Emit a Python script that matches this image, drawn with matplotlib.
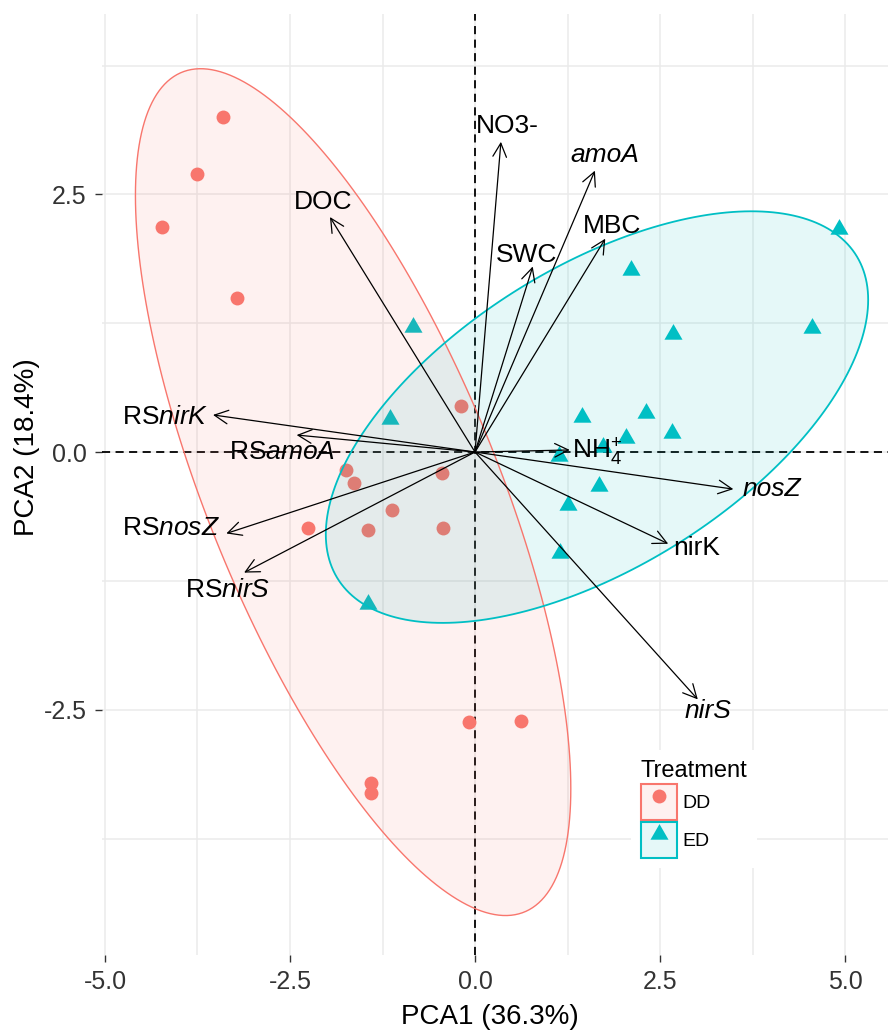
import numpy as np
import matplotlib
matplotlib.use("Agg")
import matplotlib.pyplot as plt
from matplotlib.patches import Polygon, Rectangle
from matplotlib.lines import Line2D
from matplotlib.legend_handler import HandlerTuple

plt.rcParams['font.family'] = ['Liberation Sans', 'DejaVu Sans']
plt.rcParams['mathtext.fontset'] = 'custom'
plt.rcParams['mathtext.rm'] = 'Liberation Sans'
plt.rcParams['mathtext.it'] = 'Liberation Sans:italic'
plt.rcParams['mathtext.bf'] = 'Liberation Sans:bold'

# ---------------- data ----------------
dd_pc1 = [-3.41, -3.76, -4.23, -3.22, -0.19, -1.74, -1.64, -1.12, -2.26, -1.45,
          -0.45, -0.43, -1.41, -1.41, -0.08, 0.62]
dd_pc2 = [3.25, 2.70, 2.18, 1.49, 0.45, -0.17, -0.30, -0.56, -0.74, -0.76,
          -0.20, -0.74, -3.21, -3.31, -2.62, -2.61]

ed_pc1 = [4.92, 2.11, -0.84, 2.68, 4.55, -1.15, 1.45, 2.31, 2.66, 2.04,
          1.73, 1.14, 1.68, 1.26, 1.15, -1.45]
ed_pc2 = [2.16, 1.77, 1.21, 1.15, 1.20, 0.32, 0.34, 0.38, 0.18, 0.14,
          0.05, -0.04, -0.33, -0.51, -0.98, -1.47]

# 95% ellipses: centre and (scaled) covariance matrix
dd_ellipse_center = [-1.647, -0.389]
dd_ellipse_cov = [[8.651, -8.462], [-8.462, 16.877]]
ed_ellipse_center = [1.648, 0.339]
ed_ellipse_cov = [[13.425, 4.167], [4.167, 3.987]]

var_names = ['NO3-', 'amoA', 'MBC', 'SWC', 'DOC', 'RSnirK', 'RSamoA', 'RSnosZ',
             'RSnirS', 'NH4+', 'nosZ', 'nirK', 'nirS']
var_pc1 = [0.35, 1.62, 1.76, 0.78, -1.96, -3.54, -2.41, -3.36, -3.12, 1.28, 3.49, 2.61, 3.01]
var_pc2 = [3.01, 2.73, 2.07, 1.80, 2.28, 0.36, 0.165, -0.79, -1.17, 0.02, -0.36, -0.89, -2.40]

treatments = ['DD', 'ED']
x_ticks = [-5.0, -2.5, 0.0, 2.5, 5.0]
x_ticklabels = ['-5.0', '-2.5', '0.0', '2.5', '5.0']
y_ticks = [-2.5, 0.0, 2.5]
y_ticklabels = ['-2.5', '0.0', '2.5']
x_title = 'PCA1 (36.3%)'
y_title = 'PCA2 (18.4%)'

# ---------------- layout / style ----------------
label_text = {
    'NO3-': 'NO3-', 'amoA': 'amoA', 'MBC': 'MBC', 'SWC': 'SWC', 'DOC': 'DOC',
    'RSnirK': r'RS$\mathit{nirK}$', 'RSamoA': r'RS$\mathit{amoA}$',
    'RSnosZ': r'RS$\mathit{nosZ}$', 'RSnirS': r'RS$\mathit{nirS}$',
    'NH4+': r'NH$_\mathrm{4}^\mathrm{+}$', 'nosZ': 'nosZ', 'nirK': 'nirK', 'nirS': 'nirS'}
italic_labels = {'amoA', 'nosZ', 'nirS'}
label_offset = {
    'NO3-': (0.08, 0.15), 'amoA': (0.14, 0.15), 'MBC': (0.09, 0.12),
    'SWC': (-0.09, 0.11), 'DOC': (-0.09, 0.15), 'RSnirK': (-0.64, -0.02),
    'RSamoA': (-0.20, -0.165), 'RSnosZ': (-0.75, 0.05), 'RSnirS': (-0.22, -0.17),
    'NH4+': (0.37, -0.02), 'nosZ': (0.52, 0.0), 'nirK': (0.39, -0.04),
    'nirS': (0.14, -0.11)}

colors = {'DD': '#F8766D', 'ED': '#00BFC4'}
tri = [(0, 1), (-0.866, -0.5), (0.866, -0.5), (0, 1)]
markers = {'DD': 'o', 'ED': tri}
msizes = {'DD': 10, 'ED': 15}
edge_lw = {'DD': 1.0, 'ED': 1.3}


def ellipse_pts(center, cov, segments=240):
    L = np.linalg.cholesky(np.asarray(cov, dtype=float))
    ang = np.linspace(0, 2 * np.pi, segments + 1)
    circ = np.column_stack([np.cos(ang), np.sin(ang)])
    return np.asarray(center) + circ @ L.T


fig = plt.figure(figsize=(8.88, 10.30), dpi=100)
ax = fig.add_axes([102 / 888, 75 / 1030, (888 - 102) / 888, (955 - 14) / 1030])
ax.set_xlim(-5.04, 5.58)
ax.set_ylim(-4.88, 4.25)
for s in ax.spines.values():
    s.set_visible(False)

ax.set_xticks(x_ticks)
ax.set_xticklabels(x_ticklabels)
ax.set_yticks(y_ticks)
ax.set_yticklabels(y_ticklabels)
ax.set_xticks([-3.75, -1.25, 1.25, 3.75], minor=True)
ax.set_yticks([-3.75, -1.25, 1.25, 3.75], minor=True)
ax.grid(True, which='both', color='#EBEBEB', lw=1.1, zorder=0)
ax.set_axisbelow(True)
ax.tick_params(which='major', length=5, width=1, color='#333333', labelsize=18,
               labelcolor='#333333', pad=6)
ax.tick_params(which='minor', length=0)

ax.axhline(0, color='black', lw=1.3, ls=(0, (4.5, 3)), zorder=1)
ax.axvline(0, color='black', lw=1.3, ls=(0, (4.5, 3)), zorder=1)

groups = {'DD': (dd_pc1, dd_pc2), 'ED': (ed_pc1, ed_pc2)}
ellipses = {'DD': (dd_ellipse_center, dd_ellipse_cov),
            'ED': (ed_ellipse_center, ed_ellipse_cov)}
for t in treatments:
    xs, ys = groups[t]
    ax.plot(xs, ys, ls='none', marker=markers[t], ms=msizes[t], color=colors[t],
            mec='none', zorder=2)
for t in treatments:
    pts = ellipse_pts(*ellipses[t])
    ax.add_patch(Polygon(pts, closed=True, facecolor=colors[t], alpha=0.1,
                         edgecolor='none', zorder=3))
    ax.add_patch(Polygon(pts, closed=True, facecolor='none', edgecolor=colors[t],
                         lw=edge_lw[t], zorder=3.1))

for name, vx, vy in zip(var_names, var_pc1, var_pc2):
    ax.annotate('', xy=(vx, vy), xytext=(0, 0),
                arrowprops=dict(arrowstyle='->,head_length=0.7,head_width=0.35',
                                lw=0.9, color='black', shrinkA=0, shrinkB=0,
                                mutation_scale=14), zorder=4)
    ox, oy = label_offset[name]
    ax.text(vx + ox, vy + oy, label_text[name], fontsize=19, color='black',
            ha='center', va='center',
            fontstyle='italic' if name in italic_labels else 'normal', zorder=5)

ax.set_xlabel(x_title, fontsize=20, color='black')
ax.set_ylabel(y_title, fontsize=20, color='black')
ax.xaxis.set_label_coords((490 - 102) / 786, -(1017 - 955) / 941)
ax.yaxis.set_label_coords(-(102 - 27) / 786, (955 - 447) / 941)
ax.xaxis.label.set_va('center')
ax.yaxis.label.set_va('center')

handles = []
for t in treatments:
    rect = Rectangle((0, 0), 1, 1, facecolor=matplotlib.colors.to_rgba(colors[t], 0.1),
                     edgecolor=colors[t], lw=1.5)
    mk = Line2D([], [], ls='none', marker=markers[t], ms=msizes[t], color=colors[t], mec='none')
    handles.append((rect, mk))
leg = ax.legend(handles, treatments, handler_map={tuple: HandlerTuple(ndivide=1, pad=0)},
                title='Treatment', fontsize=14, title_fontsize=17,
                loc='upper left', bbox_to_anchor=((631 - 102) / 786, (955 - 750) / 941),
                frameon=True, fancybox=False, framealpha=1, borderpad=0.5,
                handlelength=1.85, handleheight=2.47, handletextpad=0.3,
                labelspacing=0.12, borderaxespad=0)
leg.get_frame().set_edgecolor('none')
leg.get_frame().set_facecolor('white')
leg._legend_box.align = 'left'
leg.set_zorder(10)

fig.savefig('out.png', dpi=100)
